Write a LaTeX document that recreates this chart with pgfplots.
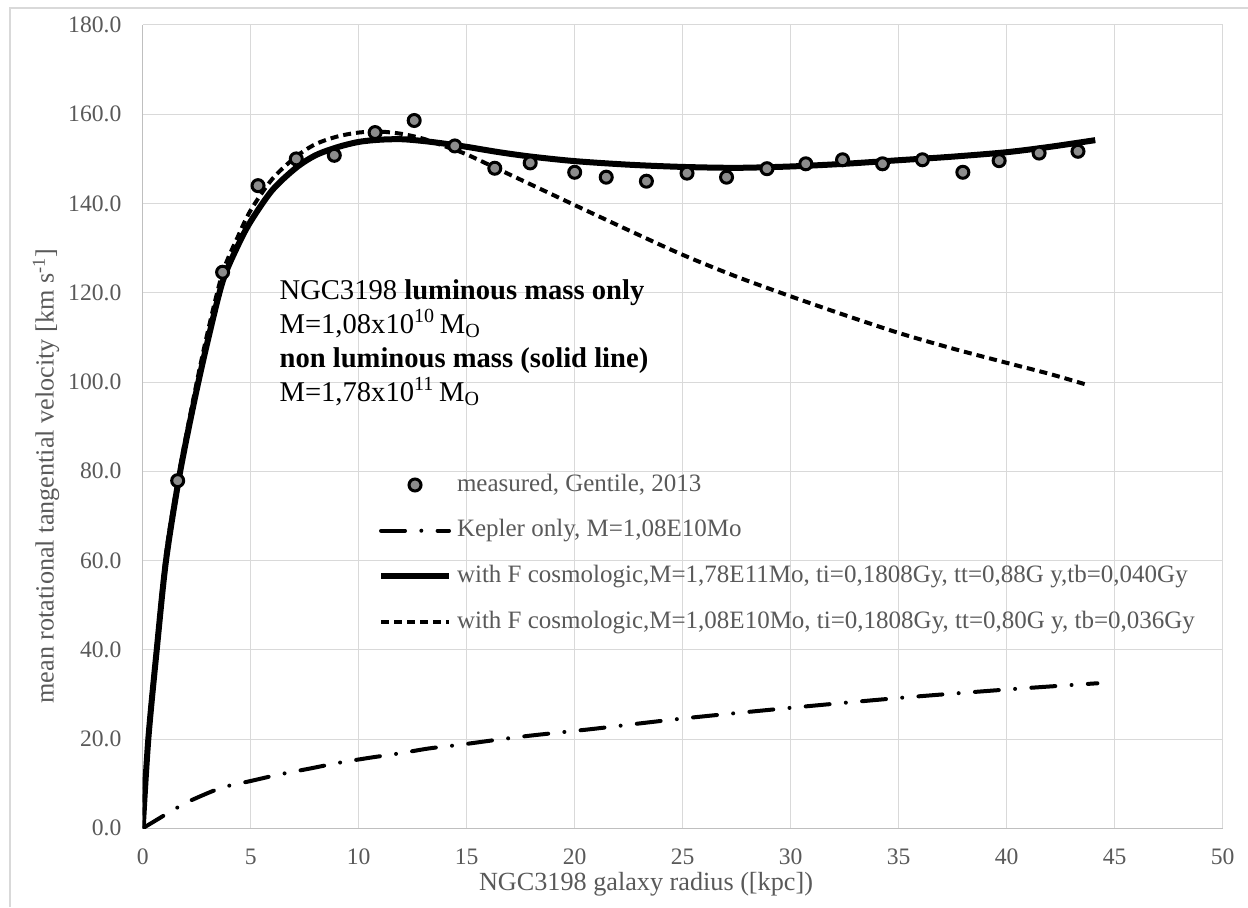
\documentclass[border=0pt]{standalone}
\usepackage{fontspec}
\setmainfont{Liberation Serif}
\usepackage{pgfplots}
\pgfplotsset{compat=1.18}
\definecolor{gridgray}{HTML}{D9D9D9}
\definecolor{txtgray}{HTML}{595959}
\definecolor{axgray}{HTML}{BFBFBF}
\definecolor{markfill}{HTML}{8C8C8C}
\pgfplotsset{
  linelegend/.style={legend image code/.code={\draw[##1] (0pt,0pt) -- (34pt,0pt);}},
  markslegend/.style={legend image code/.code={\draw[mark repeat=2,mark phase=2,##1] plot coordinates {(0pt,0pt) (17pt,0pt) (34pt,0pt)};}},
}
\begin{document}
\begin{tikzpicture}
\path[use as bounding box] (0,0) rectangle (624pt,453.5pt);
\draw[gridgray, line width=0.6pt] (5pt,0pt) -- (5pt,449.5pt) -- (624pt,449.5pt);
\begin{axis}[
  at={(71.35pt,39.35pt)}, anchor=south west,
  scale only axis, width=540pt, height=401.65pt,
  xmin=0, xmax=50, ymin=0, ymax=180,
  xtick={0,5,...,50}, ytick={0,20,...,180},
  grid=major, grid style={gridgray, line width=0.5pt},
  axis lines=left, axis line style={-, axgray, line width=0.6pt},
  major tick length=0pt,
  tick label style={font=\fontsize{11.8}{13}\selectfont, text=txtgray},
  /pgf/number format/assume math mode=true,
  yticklabel style={/pgf/number format/fixed, /pgf/number format/fixed zerofill, /pgf/number format/precision=1, anchor=east, inner sep=0pt, xshift=-10.5pt},
  xticklabel style={anchor=base, inner sep=0pt, yshift=-18.2pt},
  legend style={at={(0.2179,0.4423)}, anchor=north west, draw=none, fill=none, inner sep=0pt, outer sep=0pt, row sep=10.85pt, column sep=2.5pt, font=\fontsize{12.5}{14}\selectfont, nodes={inner sep=0pt, text height=9pt, text depth=3pt}},
  legend cell align=left,
  linelegend,
]
\addplot[only marks, mark=*, mark size=3pt, mark options={draw=black, fill=markfill, line width=1.5pt, solid}, markslegend]
  table {
x y
1.62 77.9
3.70 124.6
5.34 144.0
7.11 150.0
8.87 150.8
10.76 155.9
12.57 158.6
14.45 152.9
16.30 147.9
17.94 149.1
20.00 147.0
21.46 145.9
23.32 145.0
25.20 146.8
27.03 145.9
28.90 147.8
30.70 148.9
32.40 149.8
34.25 148.9
36.10 149.8
37.97 147.0
39.65 149.6
41.50 151.3
43.30 151.7
};
\addlegendentry{\textcolor{txtgray}{measured, Gentile, 2013}}
\addplot[black, line width=2pt, line cap=round, dash pattern=on 12pt off 8.15pt on 0pt off 8.15pt, smooth]
  table {
x y
0 0
1.2 3.5
1.73 5.0
2.35 6.5
3.66 9.1
5.0 10.6
6.36 12.1
7.75 13.4
9.1 14.7
10.5 15.8
11.9 16.8
13.26 17.9
14.66 18.7
16.5 19.9
18.1 20.85
20.9 22.3
25 24.6
30 27.0
35 29.2
40 31.1
44.2 32.5
};
\addlegendentry{\textcolor{txtgray}{Kepler only, M=1,08E10Mo}}
\addplot[black, line width=3pt, line join=round, smooth]
  table {
x y
0 0
0.26 20
0.65 40
1.08 60
1.7 79
2.4 96
3.0 109
3.7 122.5
4.4 130.5
5.0 136
6.0 143
7.1 148
8.0 150.8
9.0 152.6
10 153.8
11 154.3
12 154.4
13 154.0
14 153.4
15 152.7
16.5 151.5
18 150.5
20 149.5
22.5 148.7
25 148.2
27.5 148.0
30 148.3
32.5 148.9
35 149.7
37.5 150.5
40 151.5
42 152.7
44.1 154.2
};
\addlegendentry{\textcolor{txtgray}{with F cosmologic,M=1,78E11Mo, ti=0,1808Gy, tt=0,88G y,tb=0,040Gy}}
\addplot[black, line width=2pt, dash pattern=on 4pt off 2.5pt, smooth]
  table {
x y
0 0
0.26 21
0.65 41
1.08 61.5
1.7 80
2.4 97.5
3.0 111
3.7 124.5
4.4 132.5
5.0 138.5
6.0 145.5
7.1 150.5
8.0 153.3
9.0 155.0
10 155.9
11 156.1
12 155.6
13 154.5
14 152.8
15 151.0
16.5 147.6
18 144.2
19.8 140.1
22.5 134.0
25 128.5
27.5 123.6
30 119.2
32.5 115.0
35 111.0
37.5 107.5
40 104.3
42 101.8
43.7 99.4
};
\addlegendentry{\textcolor{txtgray}{with F cosmologic,M=1,08E10Mo, ti=0,1808Gy, tt=0,80G y, tb=0,036Gy}}
\end{axis}
\node[anchor=north west, inner sep=0pt, align=left, font=\fontsize{14.3}{16.95}\selectfont] at (139.6pt,313.9pt)
 {NGC3198 \textbf{luminous mass only}\\
  M=1,08x10\textsuperscript{10}\,M\textsubscript{O}\\
  \textbf{non luminous mass (solid line)}\\
  M=1,78x10\textsuperscript{11}\,M\textsubscript{O}};
\node[anchor=base, inner sep=0pt, text=txtgray, font=\fontsize{13.1}{15}\selectfont] at (323pt,8.5pt) {NGC3198 galaxy radius ([kpc])};
\node[rotate=90, inner sep=0pt, text=txtgray, font=\fontsize{13.1}{15}\selectfont] at (23pt,215.5pt) {mean rotational tangential velocity [km s\textsuperscript{-1}]};
\end{tikzpicture}
\end{document}
